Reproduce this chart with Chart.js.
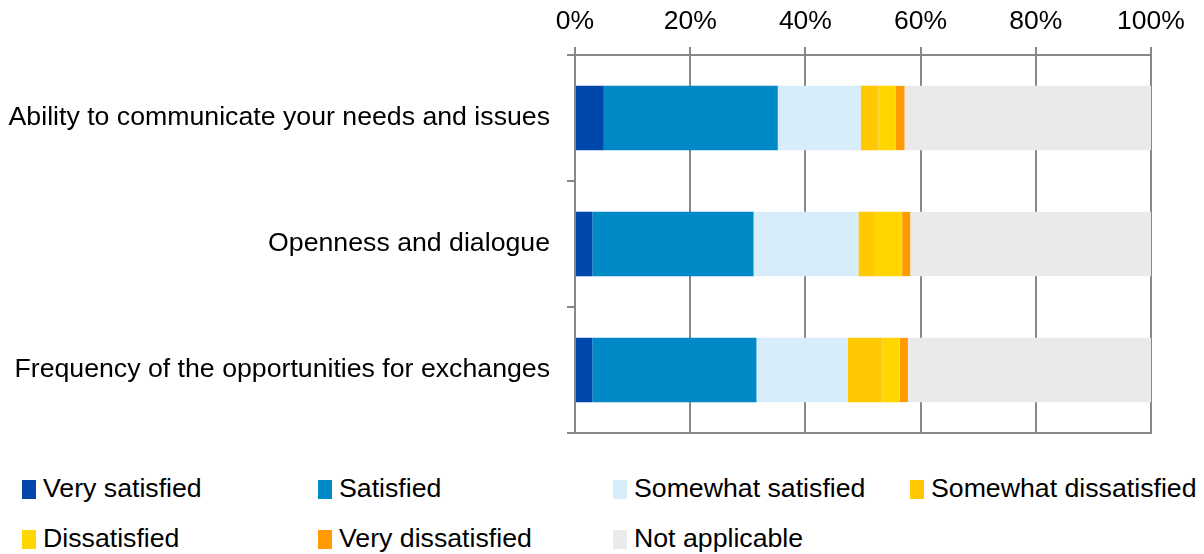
<!DOCTYPE html>
<html>
<head>
<meta charset="utf-8">
<script src="https://cdn.jsdelivr.net/npm/chart.js@4/dist/chart.umd.min.js"></script>
<style>
  body { margin: 0; background: #fff; font-family: 'Liberation Sans', Arial, sans-serif; }
  #wrap { position: relative; width: 1204px; height: 460px; }
  #legend { position: relative; width: 1204px; height: 94px; }
  .item { position: absolute; font-size: 26.7px; color: #000; white-space: nowrap; line-height: 30px; }
  .item span.box { display: inline-block; width: 14px; height: 19px; margin-right: 7px; vertical-align: -2px; }
</style>
</head>
<body>
<div id="wrap"><canvas id="chart" width="1204" height="460"></canvas></div>
<div id="legend"></div>
<script>
// Chart data (percent of respondents)
const categories = [
    'Ability to communicate your needs and issues',
    'Openness and dialogue',
    'Frequency of the opportunities for exchanges'
];
const verySatisfied = [5.0, 3.0, 3.0];
const satisfied = [30.2, 28.0, 28.5];
const somewhatSatisfied = [14.4, 18.2, 15.9];
const somewhatDissatisfied = [3.1, 2.9, 6.0];
const dissatisfied = [3.0, 4.7, 3.0];
const veryDissatisfied = [1.5, 1.4, 1.4];
const notApplicable = [42.8, 41.8, 42.2];
const tickValues = [0, 20, 40, 60, 80, 100];

const grey = '#888888';

const ctx = document.getElementById('chart').getContext('2d');
const chart = new Chart(ctx, {
    type: 'bar',
    data: {
        labels: categories,
        datasets: [
            { label: 'Very satisfied', data: verySatisfied, backgroundColor: '#0047AB' },
            { label: 'Satisfied', data: satisfied, backgroundColor: '#0089C7' },
            { label: 'Somewhat satisfied', data: somewhatSatisfied, backgroundColor: '#D7EDF9' },
            { label: 'Somewhat dissatisfied', data: somewhatDissatisfied, backgroundColor: '#FFC800' },
            { label: 'Dissatisfied', data: dissatisfied, backgroundColor: '#FFD600' },
            { label: 'Very dissatisfied', data: veryDissatisfied, backgroundColor: '#FF9A00' },
            { label: 'Not applicable', data: notApplicable, backgroundColor: '#EAEAEA' }
        ]
    },
    options: {
        indexAxis: 'y',
        responsive: false,
        animation: false,
        barPercentage: 0.51,
        categoryPercentage: 1,
        layout: { padding: { left: 0, right: 53, top: 0, bottom: 27 } },
        plugins: {
            legend: { display: false },
            tooltip: { enabled: false }
        },
        scales: {
            x: {
                position: 'top',
                stacked: true,
                min: 0,
                max: 100,
                afterBuildTicks: s => { s.ticks = tickValues.map(v => ({ value: v })); },
                afterFit: s => { s.height = 55; },
                ticks: {
                    callback: v => v + '%',
                    color: '#000',
                    padding: 9,
                    maxRotation: 0,
                    font: { family: "'Liberation Sans', Arial", size: 26.5 }
                },
                grid: { color: grey, lineWidth: 2, tickLength: 8, tickColor: grey },
                border: { color: grey, width: 2 }
            },
            x2: {
                position: 'bottom',
                display: true,
                afterFit: s => { s.height = 0; },
                ticks: { display: false },
                grid: { drawOnChartArea: false, drawTicks: false },
                border: { color: grey, width: 2 }
            },
            y: {
                stacked: true,
                afterFit: s => { s.width = 575; s.paddingTop = 0; s.paddingBottom = 0; },
                ticks: {
                    color: '#000',
                    padding: 17,
                    font: { family: "'Liberation Sans', Arial", size: 26.7 }
                },
                grid: { offset: true, drawOnChartArea: false, tickLength: 8, color: grey, lineWidth: 2 },
                border: { color: grey, width: 2 }
            }
        }
    }
});

// HTML legend laid out in columns like the original
const legend = document.getElementById('legend');
const colX = [22, 318, 613, 910];
const rowY = [13, 63];
chart.data.datasets.forEach((ds, i) => {
    const item = document.createElement('div');
    item.className = 'item';
    item.style.left = colX[i % 4] + 'px';
    item.style.top = rowY[Math.floor(i / 4)] + 'px';
    const box = document.createElement('span');
    box.className = 'box';
    box.style.background = ds.backgroundColor;
    item.appendChild(box);
    item.appendChild(document.createTextNode(ds.label));
    legend.appendChild(item);
});
</script>
</body>
</html>
